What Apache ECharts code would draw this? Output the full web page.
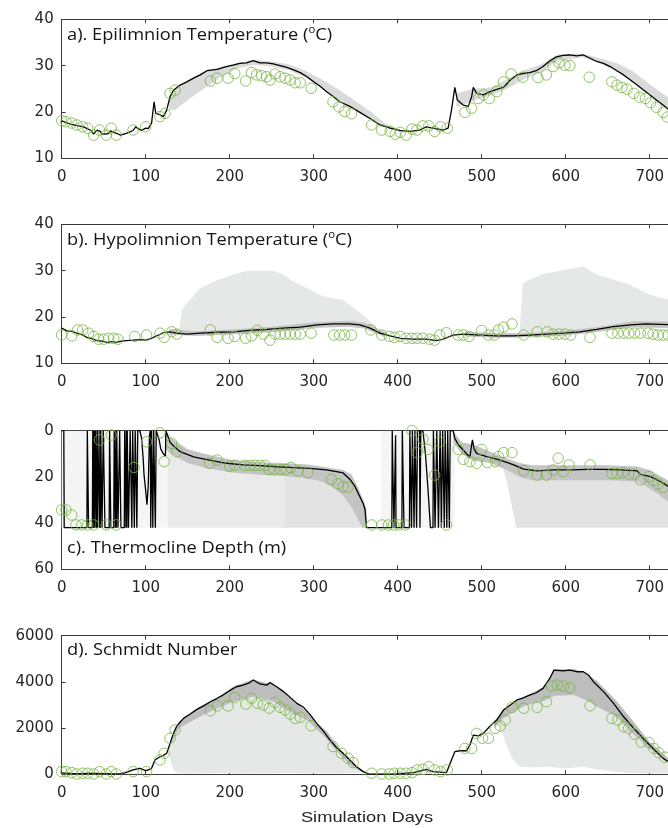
<!DOCTYPE html>
<html><head><meta charset="utf-8">
<script src="https://cdn.jsdelivr.net/npm/echarts@6/dist/echarts.min.js"></script>
<style>html,body{margin:0;padding:0;background:#fff}#c{width:668px;height:828px}</style>
</head><body><div id="c"></div>
<script>
// ---------- DATA ----------
const xLabel = 'Simulation Days';
const panelTitles = [
  '{n|a). Epilimnion Temperature (}{s|o}{n|C)}',
  '{n|b). Hypolimnion Temperature (}{s|o}{n|C)}',
  '{n|c). Thermocline Depth (m)}',
  '{n|d). Schmidt Number}'
];
const yRanges = [[10,40,10],[10,40,10],[0,60,20],[0,6000,2000]];

// a) Epilimnion temperature
const epiLine = [[0,18.1],[10,17.4],[20,17.0],[26,16.8],[35,16.0],[38,15.2],[42,16.1],[46,15.8],[48,15.2],[55,15.3],[58,15.9],[65,15.4],[70,15.0],[77,15.4],[85,16.0],[88,16.8],[92,16.3],[95,16.0],[100,16.5],[103,16.4],[107,17.6],[110,22.2],[112,19.7],[117,19.4],[121,19.0],[125,20.4],[129,23.3],[133,24.7],[141,25.8],[149,26.5],[157,27.3],[165,28.0],[173,28.9],[185,29.2],[196,29.8],[204,30.1],[212,30.5],[220,30.6],[228,31.1],[236,30.6],[244,30.6],[252,30.4],[260,30.0],[268,29.6],[276,29.1],[284,28.5],[292,27.6],[300,26.5],[308,25.5],[315,24.4],[322,23.5],[331,22.2],[343,21.2],[355,19.9],[367,18.6],[379,17.2],[391,16.5],[403,16.0],[415,15.8],[426,16.1],[434,16.8],[442,16.5],[454,16.1],[460,16.5],[464,20.4],[468,25.3],[471,22.6],[478,21.5],[484,21.2],[488,23.3],[490,25.3],[494,24.0],[502,23.7],[510,24.4],[518,24.9],[526,25.3],[534,26.9],[542,28.0],[549,28.3],[557,28.5],[565,28.9],[573,29.8],[581,31.0],[589,31.9],[597,32.2],[605,32.3],[613,32.1],[621,32.3],[629,31.6],[637,30.9],[645,30.5],[653,29.8],[661,28.9],[669,28.0],[677,26.9],[685,25.8],[693,24.7],[700,23.7],[708,22.6],[716,21.5],[724,20.3]];
const epiObs = [[0,18.1],[5,17.9],[12,17.6],[18,17.2],[25,16.8],[31,16.5],[38,15.0],[45,16.1],[53,15.0],[59,16.5],[65,15.0],[85,16.1],[100,16.8],[117,19.0],[123,19.7],[129,24.0],[135,24.7],[177,26.7],[185,27.3],[198,27.3],[206,28.3],[219,26.7],[226,28.5],[232,28.0],[238,27.8],[244,27.6],[248,26.9],[254,28.2],[260,27.6],[266,27.3],[272,26.9],[278,26.3],[284,26.3],[297,25.1],[323,22.2],[330,21.1],[337,20.1],[345,19.6],[369,17.2],[381,16.1],[391,15.8],[397,15.2],[403,15.6],[410,15.0],[417,16.3],[423,16.1],[430,17.0],[437,17.0],[444,15.8],[451,16.8],[459,16.5],[480,19.9],[488,20.8],[496,22.9],[502,23.7],[509,22.9],[518,24.4],[526,26.5],[535,28.2],[549,27.5],[567,27.4],[577,28.0],[585,29.8],[592,30.6],[599,30.1],[605,30.0],[628,27.5],[655,26.5],[661,25.8],[667,25.3],[673,24.9],[681,24.0],[688,23.2],[695,22.9],[701,22.0],[708,21.0],[716,19.9],[721,18.9]];
const epiBand = [[128,20.5,23.5],[135,20.4,25.0],[150,22.6,26.8],[170,25.1,28.9],[190,27.6,29.7],[210,29.5,30.6],[230,30.2,31.2],[250,29.8,30.9],[270,29.0,30.3],[290,27.5,28.9],[310,25.2,27.0],[330,22.4,24.8],[350,20.3,22.3],[370,18.2,19.8],[385,16.7,17.5],[400,15.8,16.4],null,[470,21.0,24.0],[490,22.5,25.0],[510,23.5,25.3],[530,25.0,27.0],[550,27.0,29.0],[570,28.5,30.2],[590,31.0,32.4],[620,31.8,32.6],[640,30.5,31.6],[660,28.8,30.6],[680,26.4,28.8],[700,23.5,26.0],[726,19.8,22.6]];

// b) Hypolimnion temperature
const hypoLine = [[0,17.6],[6,17.0],[12,16.9],[18,16.5],[24,16.2],[30,15.6],[36,15.3],[42,14.9],[48,14.8],[54,14.5],[60,14.7],[65,14.5],[71,14.8],[77,14.9],[85,15.0],[92,15.1],[100,15.0],[107,15.4],[113,15.9],[121,16.6],[129,16.8],[137,16.5],[149,16.3],[165,16.5],[185,16.7],[204,16.8],[224,17.1],[244,17.3],[264,17.6],[284,17.8],[304,18.3],[323,18.5],[343,18.5],[355,18.3],[367,17.6],[379,16.5],[391,15.9],[403,15.4],[418,15.2],[434,15.2],[446,14.9],[454,15.2],[466,16.1],[478,16.3],[498,16.1],[518,15.9],[538,15.9],[557,16.1],[577,16.3],[597,16.5],[617,16.8],[637,17.3],[657,17.9],[677,18.3],[696,18.5],[726,18.3]];
const hypoObs = [[0,16.1],[12,15.9],[19,17.2],[25,17.2],[32,16.5],[38,15.8],[44,15.2],[50,15.2],[56,15.4],[62,15.4],[67,15.2],[87,15.8],[101,16.1],[117,16.5],[122,15.6],[131,16.8],[137,16.3],[177,17.2],[185,15.6],[198,15.4],[206,15.8],[219,15.4],[226,15.9],[233,17.1],[240,16.3],[248,15.0],[254,16.3],[260,16.3],[266,16.3],[272,16.3],[278,16.3],[284,16.3],[297,16.5],[324,16.1],[331,16.1],[337,16.1],[345,16.1],[368,17.2],[381,16.1],[390,15.8],[396,15.6],[403,15.8],[410,15.4],[417,15.4],[423,15.4],[430,15.4],[438,15.2],[444,15.0],[450,16.1],[458,16.6],[472,16.1],[478,16.1],[485,15.8],[500,17.1],[508,16.1],[515,16.1],[520,17.2],[526,17.8],[536,18.5],[550,16.1],[566,16.8],[578,16.8],[585,16.3],[592,16.3],[599,16.3],[606,16.1],[629,15.6],[655,16.5],[662,16.5],[669,16.5],[675,16.5],[682,16.5],[689,16.5],[698,16.5],[704,16.3],[710,16.1],[716,16.1],[722,16.1]];
const hypoBandLight = [[140,16.3,17.0],[143,16.2,21.5],[149,16.1,23.0],[165,16.3,26.2],[185,16.5,28.0],[204,16.6,29.1],[220,16.8,30.0],[252,17.2,30.0],[264,17.4,29.1],[276,17.5,27.6],[292,17.8,26.2],[308,18.1,24.7],[323,18.3,24.0],[335,18.3,23.7],[351,18.2,21.5],[363,17.6,19.7],[375,16.6,17.6],null,[545,15.8,16.6],[549,15.8,27.3],[557,15.9,28.0],[573,16.1,29.3],[597,16.3,30.1],[621,16.7,30.9],[637,17.1,29.1],[657,17.7,28.1],[677,18.1,26.9],[696,18.3,25.1],[716,18.2,24.0],[730,18.1,23.6]];
const hypoBandDark = [[128,16.2,17.4],[160,15.9,16.9],[200,16.2,17.3],[250,16.7,17.9],[300,17.6,18.8],[340,17.9,19.2],[360,17.5,18.8],[375,16.4,17.6],[385,15.7,16.7],null,[480,15.8,16.8],[520,15.5,16.5],[560,15.6,16.6],[600,16.0,17.0],[640,16.8,17.9],[680,17.8,19.1],[730,17.6,19.0]];

// c) Thermocline depth
const thermoLine = [[0,0],[2.5,0],[3,42],[30,42],[30.5,0],[31.5,0],[32,42],[36.5,42],[37,0],[37.5,42],[38,0],[38.5,42],[39,0],[39.5,42],[40,0],[41,0],[41.5,42],[42,0],[42.5,42],[43,0],[44.5,0],[45,42],[45.5,0],[46,42],[46.5,0],[47.5,0],[48,42],[49,42],[49.5,0],[51,0],[51.5,42],[56.5,42],[57,0],[58,0],[58.5,42],[62,42],[62.5,0],[63.5,0],[64,42],[64.5,0],[65,42],[65.5,0],[66.5,0],[67,42],[68.5,42],[69,0],[70,0],[70.5,42],[74.5,42],[75,0],[76,0],[76.5,42],[77,0],[77.5,42],[78,0],[79,0],[79.5,42],[81,42],[81.5,0],[83,0],[83.5,42],[84,42],[84.5,0],[86,0],[86.5,42],[87,42],[87.5,0],[89,0],[89.5,42],[90,42],[90.5,0],[93,0],[95,3],[97,12],[98,19],[100,26],[101.5,32],[103,24],[104.5,2],[105.5,0],[106,42],[106.5,42],[107,0],[108,0],[108.5,42],[109,42],[109.5,0],[111,0],[111.5,42],[112,42],[112.5,0],[114,0],[116,4],[118,8],[121,10],[123.5,11],[124,0],[126,0],[127,3],[129,5],[133,6.5],[141,9.1],[157,11.3],[176,12.7],[196,14.1],[216,14.8],[236,15.1],[256,15.6],[276,16.0],[295,16.3],[315,17.0],[327,17.7],[335,18.3],[343,21],[349,24],[355,28.6],[359,31.6],[361,34],[363,42],[393,42],[393.5,0],[395,0],[395.5,42],[397,42],[397.5,2],[398,42],[405,42],[405.5,0],[407,0],[407.5,42],[414,42],[414.5,0],[416,0],[416.5,42],[417,42],[417.5,0],[419,0],[419.5,42],[420,42],[420.5,0],[422,0],[422.5,42],[423,42],[423.5,0],[426,0],[426.5,42],[427,42],[427.5,0],[430,0],[433,10],[436,25],[439,42],[442,42],[442.5,0],[444,0],[444.5,42],[446,42],[446.5,0],[448,0],[448.5,42],[450,42],[450.5,0],[451.5,0],[452,42],[453,42],[453.5,0],[455,0],[455.5,42],[456,42],[456.5,0],[458,0],[458.5,42],[459,42],[459.5,0],[461,0],[461.5,42],[462,42],[462.5,0],[466,0],[468,3.3],[472,6],[476,7.6],[482,10],[486,11.5],[488,6],[489,4],[491,8],[494,9.8],[506,11.2],[518,12.3],[530,13.7],[538,14.8],[550,16.6],[566,17.4],[586,17.0],[606,17.0],[626,16.7],[645,16.7],[665,17.0],[685,17.4],[689,18.9],[701,19.9],[713,22.1],[726,25.0]];
const thermoObs = [[0,34.3],[5,34.3],[12,36.5],[17,40.8],[24,40.8],[31,40.8],[38,40.8],[45,4.0],[53,40.8],[59,1.9],[65,40.8],[86,15.9],[101,4.8],[117,0.9],[122,13.4],[131,5.5],[137,9.1],[176,14.1],[185,12.7],[200,15.3],[206,15.0],[218,15.0],[224,15.0],[230,15.0],[236,15.0],[242,15.0],[247,16.8],[253,16.8],[261,16.8],[267,16.8],[273,16.0],[281,17.5],[293,18.2],[321,21.1],[329,23.0],[335,24.2],[341,24.5],[369,40.8],[381,40.8],[389,40.8],[395,40.8],[401,40.8],[409,40.8],[417,0],[423,9.5],[430,3.7],[436,8.1],[444,19.2],[450,4.8],[458,40.8],[472,8.1],[478,12.4],[486,13.4],[494,14.1],[500,8.1],[507,13.8],[516,13.4],[520,11.2],[526,9.5],[536,9.5],[550,17.3],[566,19.2],[577,19.2],[585,17.0],[591,11.9],[597,17.7],[604,14.8],[629,14.8],[655,18.5],[661,18.5],[668,18.2],[675,18.8],[682,18.8],[689,21.3],[699,19.9],[704,21.6],[710,23.1],[716,24.5]];
const thermoBandFaint = [[0,0,42],[126,0,42],null,[380,0,42],[468,0,42]];
const thermoBandPale = [[126,6,42],[150,10,42],[200,14,42],[268,15.8,42]];
const thermoBandLight = [[265,15.7,42],[320,17.5,42],[345,22,42],[363,42,42],null,[522,12,12],[530,13,22],[541,14.5,42],[560,16.5,42],[620,17,42],[690,19,42],[730,25,42]];
const thermoBandDark = [[124,0,8],[130,3,10],[150,8,14],[170,10,16],[200,12.5,18],[230,13.5,19],[260,14,19.5],[290,14.5,20.5],[310,15.5,22],[325,16.5,25],[335,17,28],[345,19,33],[352,24,38],[358,29,42],[363,34,42],null,[466,0,5],[476,5,10],[490,6,13],[510,9,14],[530,12,17],[545,14,20],[560,15,21.5],[600,15,21.5],[650,15,21.5],[685,15.5,22],[700,17,25],[712,19.5,28],[730,23,33]];

// d) Schmidt number
const schmidtLine = [[0,60],[10,40],[20,30],[30,40],[40,40],[50,30],[60,20],[70,30],[75,60],[80,130],[85,190],[90,240],[93,260],[97,200],[100,160],[104,200],[107,260],[111,620],[117,760],[121,820],[125,910],[129,1340],[133,1770],[137,2090],[145,2420],[153,2610],[161,2810],[169,2960],[177,3140],[185,3290],[192,3430],[200,3620],[208,3790],[216,3860],[224,3970],[228,4080],[236,3910],[244,3860],[248,3970],[256,3790],[264,3580],[272,3330],[280,3070],[288,2900],[296,2570],[304,2180],[312,1850],[319,1500],[327,1160],[335,910],[343,620],[351,330],[359,115],[365,15],[380,10],[399,15],[419,70],[434,215],[442,115],[458,70],[464,620],[468,980],[474,1020],[482,1020],[486,1270],[490,1700],[496,1660],[502,1770],[510,2090],[518,2350],[526,2780],[534,3000],[542,3220],[548,3290],[557,3430],[565,3530],[573,3720],[581,4150],[586,4510],[597,4480],[605,4510],[613,4440],[621,4440],[627,4300],[633,4010],[645,3580],[657,3070],[669,2490],[680,2030],[692,1560],[704,1120],[716,690],[726,450]];
const schmidtObs = [[0,115],[5,115],[12,70],[18,15],[25,45],[31,45],[38,15],[45,115],[53,15],[59,115],[65,15],[85,115],[101,115],[117,620],[122,910],[129,1560],[135,1920],[177,2750],[185,2960],[198,2960],[206,3330],[219,3040],[226,3290],[233,3070],[240,3000],[247,2860],[254,3110],[260,2900],[266,2780],[272,2610],[278,2420],[284,2470],[297,2100],[323,1200],[333,910],[341,690],[347,505],[369,45],[381,15],[390,15],[396,45],[403,45],[410,45],[417,70],[423,190],[430,215],[437,330],[444,190],[451,115],[459,190],[480,1120],[488,1120],[494,1770],[501,1560],[508,1560],[516,1990],[522,2090],[528,2350],[536,2900],[550,2860],[566,2900],[577,3140],[583,3820],[590,3860],[597,3820],[605,3750],[629,2970],[655,2420],[662,2350],[669,2060],[675,1990],[682,1740],[690,1400],[699,1370],[705,1120],[711,930],[718,740]];
const schmidtBandLight = [[127,1000,1100],[131,400,1600],[135,100,1950],[140,50,2250],[150,40,2500],[170,50,2900],[190,60,3300],[210,40,3600],[230,50,3650],[250,50,3550],[270,60,3200],[290,50,2700],[310,50,2000],[330,50,1150],[345,60,500],[358,80,150],null,[520,2300,2500],[528,1400,2800],[536,700,3050],[545,330,3200],[560,300,3300],[580,330,3500],[600,250,3450],[620,330,3450],[640,200,2950],[660,100,2500],[680,60,1850],[700,50,1100],[730,50,350]];
const schmidtBandDark = [[130,1300,1500],[140,2000,2300],[165,2500,2950],[185,2850,3300],[204,3140,3800],[228,3360,4100],[250,3200,3900],[264,2860,3600],[280,2550,3100],[292,2350,2700],[305,1900,2200],[316,1500,1850],[330,900,1150],[345,350,500],[360,60,100],null,[515,2000,2300],[525,2400,2800],[550,2950,3350],[575,3200,3800],[587,3400,4550],[610,3430,4560],[625,3200,4350],[637,2930,4050],[660,2500,3200],[677,1850,2450],[700,1100,1400],[730,300,450]];

// ---------- LAYOUT / STYLE ----------
const GRID_LEFT = 61.7, X_MAX = 760, PX_PER_DAY = 0.84;
const gridTops = [19.3, 224.3, 430.7, 635.7];
const gridHeights = [139, 139, 138.6, 138.6];
const axisColor = '#3a3a3a', textColor = '#262626';
const green = '#79b444';
const lightGray = '#e6e7e7', darkGray = '#c4c4c4';

const chart = echarts.init(document.getElementById('c'), null, {renderer: 'canvas'});

function band(arr, color, gi, z) {
  const segs = []; let cur = [];
  arr.forEach(p => { if (p === null) { if (cur.length) segs.push(cur); cur = []; } else cur.push(p); });
  if (cur.length) segs.push(cur);
  const pts = arr.filter(p => p);
  return {
    type: 'custom', xAxisIndex: gi * 2, yAxisIndex: gi, clip: true, silent: true, z: z || 1,
    data: pts.map(p => [p[0], p[1], p[2]]),
    encode: {x: 0, y: [1, 2]},
    renderItem: (params, api) => {
      if (params.dataIndex !== 0) return null;
      return {type: 'group', children: segs.map(s => ({
        type: 'polygon',
        shape: {points: s.map(p => api.coord([p[0], p[2]])).concat(s.slice().reverse().map(p => api.coord([p[0], p[1]])))},
        style: {fill: color, stroke: null}
      }))};
    }
  };
}
function line(data, gi) {
  return {type: 'line', xAxisIndex: gi * 2, yAxisIndex: gi, data, showSymbol: false, symbol: 'none',
    lineStyle: {color: '#000', width: 1.3}, z: 5, silent: true};
}
function obs(data, gi) {
  return {type: 'scatter', xAxisIndex: gi * 2, yAxisIndex: gi, data, symbol: 'circle', symbolSize: 10.5,
    itemStyle: {color: 'rgba(255,255,255,0)', borderColor: green, borderWidth: 1}, z: 6, silent: true};
}

const grids = [], xAxes = [], yAxes = [];
for (let i = 0; i < 4; i++) {
  grids.push({left: GRID_LEFT, top: gridTops[i], width: X_MAX * PX_PER_DAY, height: gridHeights[i],
    outerBoundsMode: 'none', containLabel: false});
  ['bottom', 'top'].forEach(pos => xAxes.push({
    gridIndex: i, type: 'value', min: 0, max: X_MAX, interval: 100, position: pos,
    axisLine: {show: true, onZero: false, lineStyle: {color: axisColor, width: 1}},
    axisTick: {show: true, inside: true, length: 4, lineStyle: {color: axisColor}},
    axisLabel: {show: pos === 'bottom', margin: 11, color: textColor, fontFamily: 'DejaVu Sans', fontSize: 15,
      formatter: v => (v % 100 === 0 ? String(v) : '')},
    splitLine: {show: false}
  }));
  const r = yRanges[i];
  yAxes.push({
    gridIndex: i, type: 'value', min: r[0], max: r[1], interval: r[2], inverse: i === 2,
    axisLine: {show: true, onZero: false, lineStyle: {color: axisColor, width: 1}},
    axisTick: {show: true, inside: true, length: 4, lineStyle: {color: axisColor}},
    axisLabel: {margin: 8, color: textColor, fontFamily: 'DejaVu Sans', fontSize: 15, formatter: v => String(v)},
    splitLine: {show: false}
  });
}

const series = [
  band(epiBand, '#dadada', 0, 1), line(epiLine, 0), obs(epiObs, 0),
  band(hypoBandLight, lightGray, 1, 1), band(hypoBandDark, darkGray, 1, 2), line(hypoLine, 1), obs(hypoObs, 1),
  band(thermoBandFaint, '#f5f5f5', 2, 1), band(thermoBandPale, '#eaeaea', 2, 1), band(thermoBandLight, '#e3e3e3', 2, 1),
  band(thermoBandDark, darkGray, 2, 2), line(thermoLine, 2), obs(thermoObs, 2),
  band(schmidtBandLight, lightGray, 3, 1), band(schmidtBandDark, '#bdbdbd', 3, 2), line(schmidtLine, 3), obs(schmidtObs, 3)
];

const titleY = [35, 240, 548, 650];
const graphic = panelTitles.map((t, i) => ({
  type: 'text', x: 67, y: titleY[i], scaleX: 1.14, z: 100,
  style: {
    text: t, textAlign: 'left', textVerticalAlign: 'middle', align: 'left', verticalAlign: 'middle',
    fill: '#141414',
    rich: {
      n: {fontFamily: 'Open Sans', fontSize: 16, fill: '#141414', lineHeight: 20},
      s: {fontFamily: 'Open Sans', fontSize: 10, fill: '#141414', verticalAlign: 'top', lineHeight: 20}
    }
  }
}));
graphic.push({
  type: 'text', x: 367, y: 818, scaleX: 1.22, z: 100,
  style: {text: xLabel, textAlign: 'center', textVerticalAlign: 'middle', align: 'center', verticalAlign: 'middle',
    fill: textColor, fontFamily: 'Liberation Sans', fontSize: 15, font: '15px "Liberation Sans"'}
});

chart.setOption({
  animation: false,
  backgroundColor: '#fff',
  grid: grids, xAxis: xAxes, yAxis: yAxes, series, graphic
});
</script></body></html>
